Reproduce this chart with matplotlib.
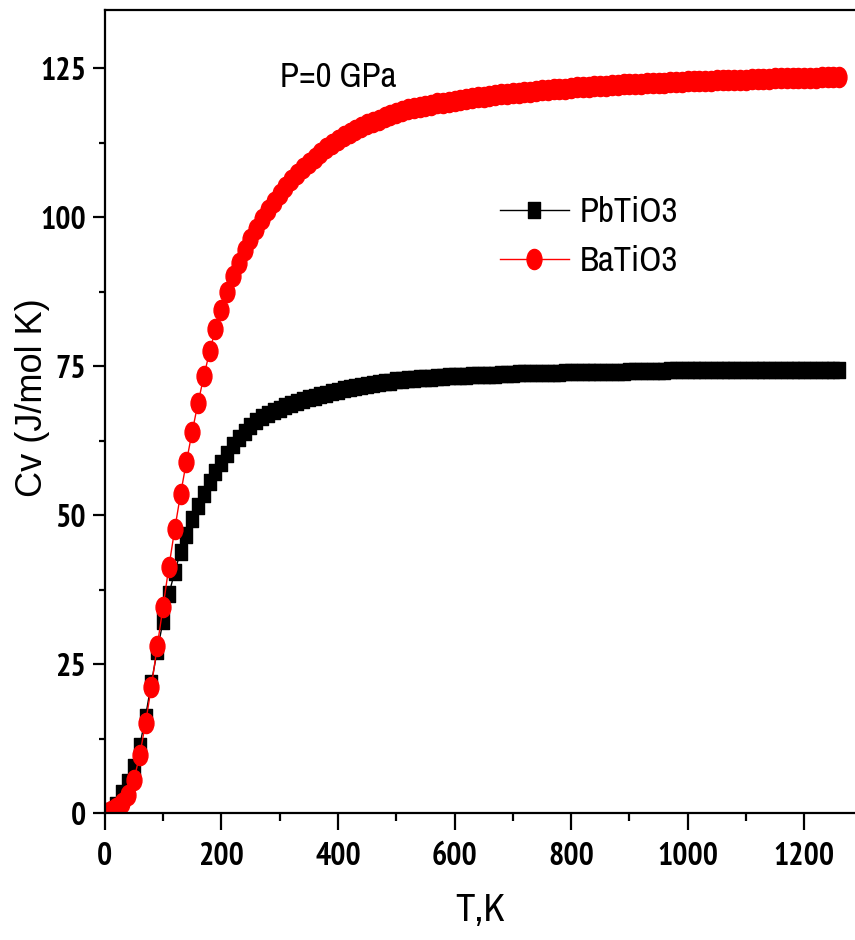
import os
import matplotlib
matplotlib.use("Agg")
import matplotlib.pyplot as plt
from matplotlib import font_manager as fm
from matplotlib.path import Path
from matplotlib.transforms import Affine2D
from matplotlib.ticker import MultipleLocator

# Temperature grid (K), one point every 10 K
temps = list(range(0, 1270, 10))

# Heat capacity Cv (J/mol K)
cv_pbtio3 = [
    0.0, 0.3, 1.4, 3.4, 5.3, 7.8, 11.2, 16.2, 21.9, 27.2,
    32.2, 36.7, 40.5, 43.8, 46.7, 49.3, 51.6, 53.6, 55.5, 57.2,
    58.8, 60.3, 61.7, 62.9, 64.0, 65.0, 65.8, 66.5, 67.0, 67.5,
    67.9, 68.3, 68.7, 69.0, 69.3, 69.6, 69.9, 70.2, 70.4, 70.7,
    70.9, 71.1, 71.3, 71.5, 71.7, 71.9, 72.0, 72.2, 72.3, 72.4,
    72.6, 72.7, 72.8, 72.9, 73.0, 73.0, 73.1, 73.2, 73.2, 73.3,
    73.3, 73.4, 73.4, 73.5, 73.5, 73.6, 73.6, 73.6, 73.7, 73.7,
    73.7, 73.8, 73.8, 73.8, 73.8, 73.9, 73.9, 73.9, 73.9, 74.0,
    74.0, 74.0, 74.0, 74.0, 74.1, 74.1, 74.1, 74.1, 74.1, 74.1,
    74.2, 74.2, 74.2, 74.2, 74.2, 74.2, 74.2, 74.3, 74.3, 74.3,
    74.3, 74.3, 74.3, 74.3, 74.3, 74.3, 74.3, 74.3, 74.3, 74.3,
    74.3, 74.3, 74.4, 74.4, 74.4, 74.4, 74.4, 74.4, 74.4, 74.4,
    74.4, 74.4, 74.4, 74.4, 74.4, 74.4, 74.4,
]

cv_batio3 = [
    0.0, 0.4, 0.9, 1.7, 3.0, 5.6, 9.7, 15.1, 21.2, 28.0,
    34.6, 41.3, 47.6, 53.5, 58.9, 64.0, 68.8, 73.3, 77.5, 81.2,
    84.5, 87.5, 90.1, 92.4, 94.5, 96.4, 98.1, 99.7, 101.2, 102.6,
    103.9, 105.1, 106.2, 107.2, 108.2, 109.1, 110.0, 110.8, 111.6, 112.3,
    113.0, 113.6, 114.1, 114.6, 115.1, 115.6, 116.0, 116.4, 116.8, 117.2,
    117.5, 117.8, 118.1, 118.3, 118.5, 118.7, 118.9, 119.1, 119.2, 119.4,
    119.5, 119.7, 119.8, 120.0, 120.1, 120.2, 120.4, 120.5, 120.6, 120.7,
    120.8, 120.9, 121.0, 121.1, 121.2, 121.3, 121.4, 121.5, 121.5, 121.6,
    121.7, 121.8, 121.8, 121.9, 122.0, 122.0, 122.1, 122.2, 122.2, 122.3,
    122.3, 122.4, 122.4, 122.5, 122.5, 122.6, 122.6, 122.7, 122.7, 122.7,
    122.8, 122.8, 122.9, 122.9, 122.9, 123.0, 123.0, 123.0, 123.1, 123.1,
    123.1, 123.2, 123.2, 123.2, 123.2, 123.3, 123.3, 123.3, 123.3, 123.4,
    123.4, 123.4, 123.4, 123.5, 123.5, 123.5, 123.5,
]

series_labels = ["PbTiO3", "BaTiO3"]


def narrow_font(bold, size):
    """Pick an installed narrow/condensed face, else plain DejaVu Sans."""
    found = []
    for f in fm.fontManager.ttflist:
        base = os.path.basename(f.fname).lower()
        if "italic" in base or "oblique" in base:
            continue
        if ("bold" in base) != bold:
            continue
        if "narrow" in base:
            found.append((0, f.fname))
        elif "condensed" in base:
            found.append((1, f.fname))
    if found:
        found.sort()
        return fm.FontProperties(fname=found[0][1], size=size)
    return fm.FontProperties(family="DejaVu Sans", weight="bold" if bold else "normal", size=size)


tick_fp = narrow_font(True, 23)
xlab_fp = narrow_font(False, 28)
note_fp = narrow_font(False, 25)
leg_fp = narrow_font(False, 25)

# tall markers (the original figure is squeezed horizontally)
square_tall = Path([[-0.35, -0.5], [0.35, -0.5], [0.35, 0.5], [-0.35, 0.5], [-0.35, -0.5]],
                   [Path.MOVETO, Path.LINETO, Path.LINETO, Path.LINETO, Path.CLOSEPOLY])
ellipse_tall = Affine2D().scale(0.74, 1.0).transform_path(Path.unit_circle())

fig = plt.figure(figsize=(8.55, 9.4), dpi=100)
ax = fig.add_axes([0.1225, 0.135, 0.8775, 0.8545])

ax.plot(temps, cv_pbtio3, color="black", lw=1.0, marker=square_tall, ms=12,
        mfc="black", mec="black", label=series_labels[0])
ax.plot(temps, cv_batio3, color="red", lw=1.0, marker=ellipse_tall, ms=14.5,
        mfc="red", mec="red", label=series_labels[1])

ax.set_xlim(0, 1287)
ax.set_ylim(0, 134.8)
ax.xaxis.set_major_locator(MultipleLocator(200))
ax.xaxis.set_minor_locator(MultipleLocator(100))
ax.yaxis.set_major_locator(MultipleLocator(25))
ax.yaxis.set_minor_locator(MultipleLocator(12.5))

for side in ["left", "bottom", "top"]:
    ax.spines[side].set_linewidth(1.6)
ax.spines["right"].set_visible(False)

ax.tick_params(axis="x", which="major", direction="out", length=12, width=1.6, pad=9)
ax.tick_params(axis="x", which="minor", direction="out", length=6, width=1.6)
ax.tick_params(axis="y", which="major", direction="out", length=8.5, width=1.6, pad=5)
ax.tick_params(axis="y", which="minor", direction="out", length=4, width=1.6)

for lab in ax.get_xticklabels() + ax.get_yticklabels():
    lab.set_fontproperties(tick_fp)

ax.set_xlabel("T,K", fontproperties=xlab_fp)
ax.xaxis.set_label_coords(0.5, -0.1)
ax.set_ylabel("Cv (J/mol K)", family=["Liberation Sans", "DejaVu Sans"], fontsize=26)
ax.yaxis.set_label_coords(-0.073, 0.517)

ax.text(300, 123.5, "P=0 GPa", fontproperties=note_fp, va="center", ha="left")

leg = ax.legend(loc="upper left", bbox_to_anchor=(0.564, 0.81), bbox_transform=fig.transFigure,
                frameon=False, prop=leg_fp,
                handlelength=2.0, handletextpad=0.3, labelspacing=0.5, borderpad=0)

fig.savefig("out.png", dpi=100)
